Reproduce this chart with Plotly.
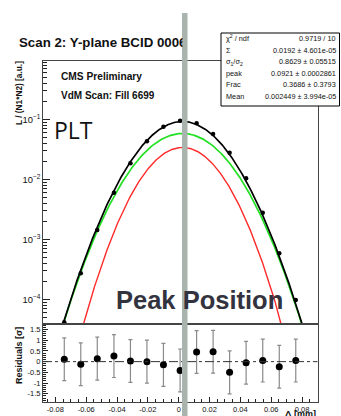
import numpy as np
import plotly.graph_objects as go

W, H = 341, 416

# beam separation of each scan step [mm]
sep = [-0.0742, -0.0635, -0.0528, -0.0420, -0.0313, -0.0206, -0.0099, 0.0009,
       0.0116, 0.0223, 0.0330, 0.0437, 0.0545, 0.0652, 0.0759]
# normalised luminosity L / (N1*N2) at each step
rate = [4.14e-5, 2.71e-4, 1.43e-3, 5.98e-3, 0.0185, 0.0430, 0.0753, 0.0944,
        0.0858, 0.0569, 0.0277, 0.0104, 2.77e-3, 5.84e-4, 9.73e-5]
# fit residuals in units of the point error
resid = [0.11, -0.12, 0.14, 0.26, 0.03, 0.00, -0.15, -0.41,
         0.45, 0.46, -0.50, -0.05, 0.05, -0.24, 0.05]
resid_err = [1.0] * 15

# double-gaussian fit result
chi2_ndf = "0.9719 / 10"
par_names = ["Σ", "σ<sub>1</sub>/σ<sub>2</sub>", "peak", "Frac", "Mean"]
par_vals = [0.0192, 0.8629, 0.0921, 0.3686, 0.002449]
par_errs = [4.601e-05, 0.05515, 0.0002861, 0.3793, 3.994e-05]

x_ticks = [-0.08, -0.06, -0.04, -0.02, 0, 0.02, 0.04, 0.06, 0.08]
x_ticktext = ["-0.08", "-0.06", "-0.04", "-0.02", "0", "0.02", "0.04", "0.06", "0.08"]
r_ticks = [1.5, 1, 0.5, 0, -0.5, -1, -1.5]
r_ticktext = ["1.5", "1", "0.5", "0", "-0.5", "-1", "-1.5"]

X_RANGE = [-0.088, 0.090]
Y_RANGE = [3.95e-5, 0.937]


def px(x):
    return x / W


def py(y):
    return 1 - y / H


cap_sigma, ratio, peak, frac, mean = par_vals
sig2 = cap_sigma / (frac * ratio + (1 - frac))
sig1 = ratio * sig2

xf = np.linspace(X_RANGE[0], X_RANGE[1], 800)
narrow = peak * frac * np.exp(-(xf - mean) ** 2 / (2 * sig1 ** 2))
wide = peak * (1 - frac) * np.exp(-(xf - mean) ** 2 / (2 * sig2 ** 2))
total = narrow + wide

FONT = "Liberation Sans"
fig = go.Figure()

fig.add_trace(go.Scatter(x=xf, y=narrow, mode="lines",
                         line=dict(color="#ff2a2a", width=1.4), xaxis="x", yaxis="y"))
fig.add_trace(go.Scatter(x=xf, y=wide, mode="lines",
                         line=dict(color="#22e022", width=1.7), xaxis="x", yaxis="y"))
fig.add_trace(go.Scatter(x=xf, y=total, mode="lines",
                         line=dict(color="#000000", width=1.7), xaxis="x", yaxis="y"))
fig.add_trace(go.Scatter(x=sep, y=rate, mode="markers",
                         marker=dict(color="#000000", size=4.5), xaxis="x", yaxis="y"))

fig.add_trace(go.Scatter(x=sep, y=resid, mode="markers",
                         marker=dict(color="#000000", size=7),
                         error_y=dict(type="data", array=resid_err, color="#8a8a8a",
                                      thickness=1.2, width=2),
                         xaxis="x2", yaxis="y2"))

tickfont = dict(family=FONT, size=7.5, color="#111111")
xdom = [px(43), px(317.5)]

fig.update_layout(
    width=W, height=H, autosize=False,
    margin=dict(l=0, r=0, t=0, b=0),
    paper_bgcolor="white", plot_bgcolor="white",
    showlegend=False,
    xaxis=dict(domain=xdom, range=X_RANGE, anchor="y", matches="x2",
               showticklabels=False, ticks="", showgrid=False, zeroline=False,
               showline=True, mirror=True, linecolor="#444444", linewidth=1),
    yaxis=dict(domain=[py(323.5), py(61)], type="log",
               range=[np.log10(Y_RANGE[0]), np.log10(Y_RANGE[1])], anchor="x",
               tickmode="linear", tick0=0, dtick=1,
               exponentformat="power", showexponent="all",
               ticks="inside", ticklen=7, tickcolor="#222222", tickfont=tickfont,
               minor=dict(ticks="inside", ticklen=3.5, dtick="D1",
                          tickcolor="#222222", showgrid=False),
               showgrid=False, zeroline=False,
               showline=True, mirror=True, linecolor="#444444", linewidth=1),
    xaxis2=dict(domain=xdom, range=X_RANGE, anchor="y2",
                tickvals=x_ticks, ticktext=x_ticktext, tickfont=tickfont,
                ticks="inside", ticklen=5, tickcolor="#222222",
                minor=dict(ticks="inside", ticklen=2.5, dtick=0.005, tickcolor="#222222",
                           showgrid=False),
                showgrid=False, zeroline=False,
                showline=True, mirror=True, linecolor="#444444", linewidth=1),
    yaxis2=dict(domain=[py(401.5), py(323.5)], range=[-1.86, 1.78], anchor="x2",
                tickvals=r_ticks, ticktext=r_ticktext, tickfont=tickfont,
                ticks="inside", ticklen=5, tickcolor="#222222",
                minor=dict(ticks="inside", ticklen=2.5, dtick=0.1, tickcolor="#222222",
                           showgrid=False),
                showgrid=False, zeroline=False,
                showline=True, mirror=True, linecolor="#444444", linewidth=1),
)

# dash-dotted zero line of the residual panel
fig.add_shape(type="line", xref="x2 domain", yref="y2", x0=0, x1=1, y0=0, y1=0,
              line=dict(color="#333333", width=1, dash="dashdot"))

# vertical marker of the peak position
fig.add_shape(type="rect", xref="paper", yref="paper",
              x0=px(182), x1=px(187.5), y0=0, y1=py(13),
              fillcolor="#aab4ae", line=dict(width=0), layer="above")

# fit statistics box
fig.add_shape(type="rect", xref="paper", yref="paper",
              x0=px(221), x1=px(339.5), y0=py(106), y1=py(33),
              fillcolor="white", line=dict(color="#000000", width=1), layer="above")

stat_labels = ["χ<sup>2</sup> / ndf"] + par_names
stat_values = [chi2_ndf] + [f"{v:.4g} ± {e:.4g}" for v, e in zip(par_vals, par_errs)]
for i, (lab, val) in enumerate(zip(stat_labels, stat_values)):
    yy = py(38.5 + 11.6 * i)
    fig.add_annotation(x=px(223.5), y=yy, xref="paper", yref="paper", text=lab,
                       showarrow=False, xanchor="left", yanchor="middle",
                       font=dict(family=FONT, size=7.3, color="#111111"))
    fig.add_annotation(x=px(338), y=yy, xref="paper", yref="paper", text=val,
                       showarrow=False, xanchor="right", yanchor="middle",
                       font=dict(family=FONT, size=7.3, color="#111111"))


def note(text, x, y, size, xanchor="left", yanchor="middle", angle=0,
         family=FONT, bold=True, color="#111111", **kw):
    fig.add_annotation(x=px(x), y=py(y), xref="paper", yref="paper",
                       text=f"<b>{text}</b>" if bold else text,
                       showarrow=False, xanchor=xanchor, yanchor=yanchor,
                       textangle=angle, borderpad=0,
                       font=dict(family=family, size=size, color=color), **kw)


note("Scan 2: Y-plane BCID 0006", 18.3, 42.7, 13.3, width=163.5, align="left")
note("CMS Preliminary", 60, 76.3, 10.2)
note("VdM Scan: Fill 6699", 60, 95.3, 10)
note("PLT", 53, 130, 23, family="Open Sans", bold=False, color="#111111")
note("Peak Position", 115, 300, 25.5, color="#333340")
note("L / (N1*N2) [a.u.]", 19, 60, 8.3, xanchor="center", yanchor="top", angle=-90)
note("Residuals [σ]", 19, 356, 9, xanchor="center", angle=-90)
note("Δ [mm]", 317, 414, 9, xanchor="right")

fig.write_html("out.html")
